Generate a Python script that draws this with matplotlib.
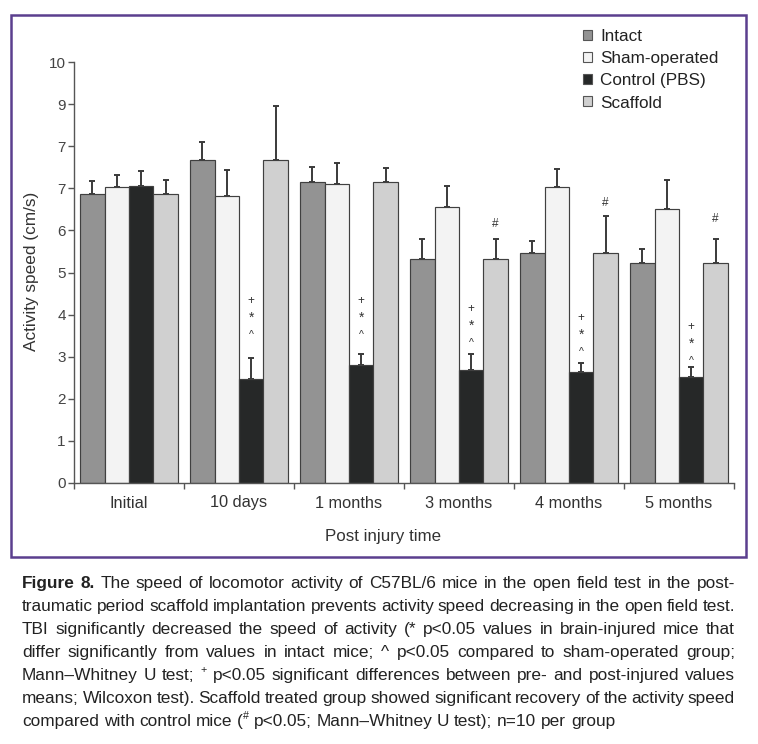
import matplotlib
matplotlib.use('Agg')
import matplotlib.pyplot as plt
from matplotlib.patches import Patch, Rectangle
from matplotlib.transforms import IdentityTransform
import numpy as np

plt.rcParams['font.family'] = ['Liberation Sans', 'DejaVu Sans']

# ---------------- data ----------------
groups = ['Initial', '10 days', '1 months', '3 months', '4 months', '5 months']
series = ['Intact', 'Sham-operated', 'Control (PBS)', 'Scaffold']
intact = [6.86, 7.68, 7.16, 5.33, 5.47, 5.22]
intact_err = [0.31, 0.43, 0.35, 0.47, 0.29, 0.33]
sham = [7.02, 6.82, 7.11, 6.56, 7.02, 6.52]
sham_err = [0.30, 0.62, 0.48, 0.49, 0.43, 0.67]
control = [7.06, 2.47, 2.80, 2.68, 2.63, 2.52]
control_err = [0.35, 0.49, 0.26, 0.38, 0.22, 0.23]
scaffold = [6.86, 7.68, 7.16, 5.33, 5.47, 5.22]
scaffold_err = [0.33, 1.28, 0.33, 0.47, 0.87, 0.58]
ytick_labels = ['0', '1', '2', '3', '4', '5', '6', '7', '7', '9', '10']
# significance marks (y of the lowest mark '^' above control bars; '#' above scaffold bars)
control_mark_y = [None, 3.52, 3.52, 3.33, 3.12, 2.90]
scaffold_hash_y = [None, None, None, 6.16, 6.64, 6.26]

caption_lines = [
    "**Figure **8. The speed of locomotor activity of C57BL/6 mice in the open field test in the post-",
    "traumatic period scaffold implantation prevents activity speed decreasing in the open field test.",
    "TBI significantly decreased the speed of activity (* p<0.05 values in brain-injured mice that",
    "differ significantly from values in intact mice; ^ p<0.05 compared to sham-operated group;",
    "Mann\u2013Whitney U test; ^^+ p<0.05 significant differences between pre- and post-injured values",
    "means; Wilcoxon test). Scaffold treated group showed significant recovery of the activity speed",
    "compared with control mice (^^# p<0.05; Mann\u2013Whitney U test); n=10 per group",
]

# ---------------- figure ----------------
W, H = 758, 744
fig = plt.figure(figsize=(W / 100, H / 100), dpi=100)
fig.patch.set_facecolor('white')


def fx(px):
    return px / W


def fy(py):
    return 1 - py / H


ax = fig.add_axes([fx(74), fy(483), fx(734) - fx(74), fy(62) - fy(483)])
x = np.arange(len(groups))
bw = 0.222
data = [(intact, intact_err), (sham, sham_err), (control, control_err), (scaffold, scaffold_err)]
colors = ['#939393', '#f3f3f3', '#262828', '#d0d0d0']
for i, ((vals, errs), c) in enumerate(zip(data, colors)):
    xi = x + (i - 1.5) * bw
    ax.bar(xi, vals, bw, color=c, edgecolor='#404040', linewidth=0.85, zorder=2)
    ax.errorbar(xi, vals, yerr=[np.zeros(len(vals)), errs], fmt='none',
                ecolor='#3a3a3a', elinewidth=1.4, capsize=2.4, capthick=1.4, zorder=1.5)

for gi in range(len(groups)):
    yb = control_mark_y[gi]
    if yb is not None:
        xc = x[gi] + 0.5 * bw
        ax.text(xc, yb, '^', ha='center', va='center', fontsize=7.5, color='#333', zorder=4)
        ax.text(xc, yb + 0.40, '*', ha='center', va='center', fontsize=10, color='#333', zorder=4)
        ax.text(xc, yb + 0.80, '+', ha='center', va='center', fontsize=8.5, color='#333', zorder=4)
    yh = scaffold_hash_y[gi]
    if yh is not None:
        ax.text(x[gi] + 1.5 * bw, yh, '#', ha='center', va='center', fontsize=8.5, color='#333', zorder=4)

ax.set_xlim(-0.5, len(groups) - 0.5)
ax.set_ylim(0, 10)
ax.set_xticks(x)
ax.set_xticklabels(groups, fontsize=11.8)
ax.set_xticks(np.arange(-0.5, len(groups), 1), minor=True)
ax.tick_params(axis='x', which='major', length=0, pad=9, labelcolor='#333')
ax.tick_params(axis='x', which='minor', length=4.5, width=1, color='#555', direction='out')
ax.set_yticks(range(11))
ax.set_yticklabels(ytick_labels, fontsize=11)
ax.tick_params(axis='y', length=4.5, width=1, color='#555', pad=1.5, labelcolor='#444')
for s in ['top', 'right']:
    ax.spines[s].set_visible(False)
for s in ['left', 'bottom']:
    ax.spines[s].set_color('#555')
    ax.spines[s].set_linewidth(1)

fig.text(fx(32), fy(271), 'Activity speed (cm/s)', rotation=90, ha='center', va='center',
         fontsize=12.4, color='#333')
fig.text(fx(383), fy(537), 'Post injury time', ha='center', va='center', fontsize=12.2, color='#333')

handles = [Patch(facecolor=c, edgecolor='#555', linewidth=0.8, label=s) for c, s in zip(colors, series)]
leg = fig.legend(handles=handles, loc='upper left', bbox_to_anchor=(fx(583), fy(29)), frameon=False,
                 fontsize=12.3, handlelength=0.52, handleheight=0.52, handletextpad=0.5,
                 labelspacing=0.42, borderpad=0, borderaxespad=0)
for t in leg.get_texts():
    t.set_color('#222')

fig.patches.append(Rectangle((fx(11), fy(557)), fx(746) - fx(11), fy(15) - fy(557),
                             transform=fig.transFigure, fill=False, edgecolor='#5b3f8e', linewidth=1.8))

# ---------------- caption (justified) ----------------
cap_family = ['Liberation Sans Narrow', 'Liberation Sans', 'DejaVu Sans']
renderer = fig.canvas.get_renderer()


def parse(word):
    if '^^' in word:
        a, b = word.split('^^')
        segs = []
        if a:
            segs.append((a, 'n'))
        segs.append((b, 's'))
        return segs
    return [(word, 'n')]


def make_seg(txt, style, size):
    return fig.text(0, 0, txt, fontsize=size * (0.62 if style == 's' else 1.0),
                    fontweight='bold' if style == 'b' else 'normal', family=cap_family,
                    color='#222', transform=IdentityTransform(), va='baseline', ha='left')


def measure(txt, style, size):
    t = make_seg(txt, style, size)
    w = t.get_window_extent(renderer).width
    t.remove()
    return w


def line_words(line):
    # "**Figure **8." -> bold "Figure" and bold "8."
    out = []
    for w in line.split(' '):
        if w == '':
            continue
        if w.startswith('**'):
            out.append([(w[2:], 'b')])
        elif len(out) == 1 and out[0][0][1] == 'b' and w.startswith('8'):
            out.append([(w, 'b')])
        else:
            out.append(parse(w))
    return out


def word_width(segs, size):
    return sum(measure(t, s, size) for t, s in segs)


size0 = 12.0
space0 = measure('a a', 'n', size0) - measure('aa', 'n', size0)
last = line_words(caption_lines[-1])
nat = sum(word_width(w, size0) for w in last) + space0 * (len(last) - 1)
cap_size = size0 * (613 - 22) / nat
space = measure('a a', 'n', cap_size) - measure('aa', 'n', cap_size)

left_px, right_px = 22, 735
base0, lstep = 588, 23
for li, line in enumerate(caption_lines):
    words = line_words(line)
    widths = [word_width(w, cap_size) for w in words]
    if li < len(caption_lines) - 1:
        gap = (right_px - left_px - sum(widths)) / (len(words) - 1)
    else:
        gap = space
    xp = left_px
    yb = H - (base0 + li * lstep)
    for w, wd in zip(words, widths):
        xs = xp
        for t, s in w:
            tt = make_seg(t, s, cap_size)
            yy = yb + (cap_size * 100 / 72 * 0.38 if s == 's' else 0)
            tt.set_position((xs, yy))
            xs += tt.get_window_extent(renderer).width
        xp += wd + gap

fig.savefig('out.png', dpi=100)
